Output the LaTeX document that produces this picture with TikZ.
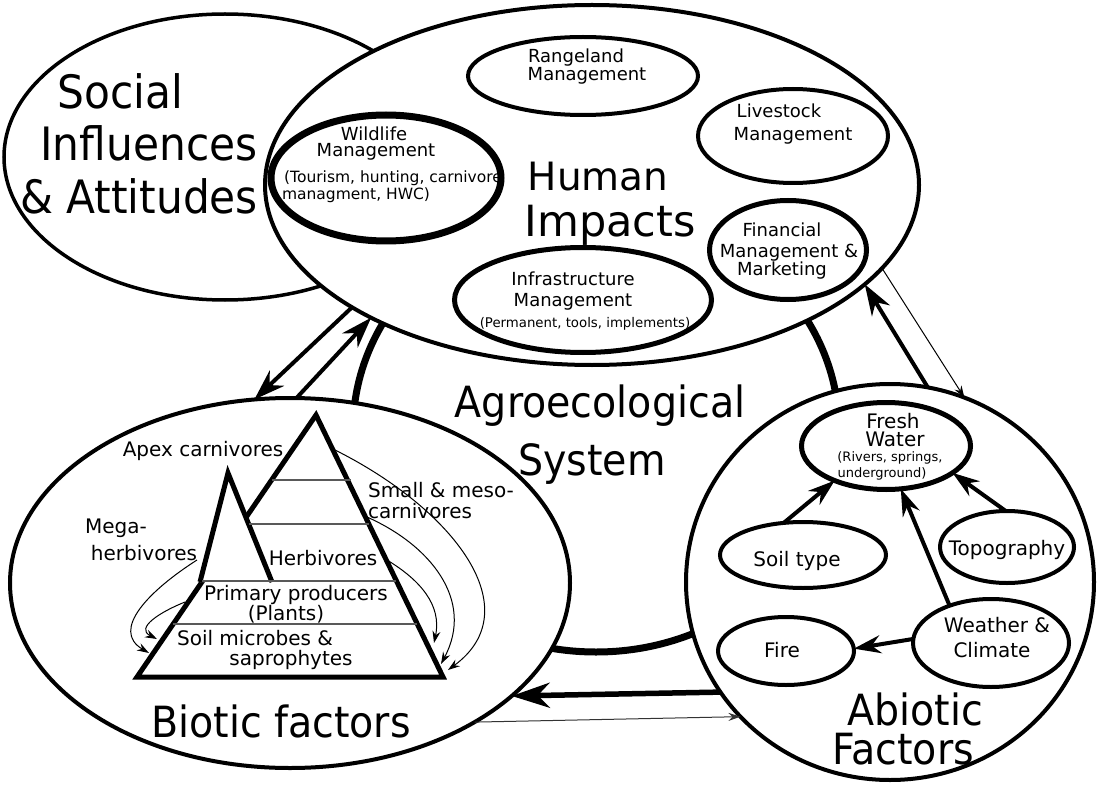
\documentclass[tikz,border=0pt]{standalone}
\usepackage{fontspec}
\setmainfont{DejaVu Sans}
\newfontfamily\bigf{DejaVu Sans}[FakeStretch=0.92]
\usetikzlibrary{shapes.geometric,arrows.meta}
\begin{document}
\begin{tikzpicture}[x=1pt,y=-1pt]
\tikzset{
 ell/.style={ellipse,draw,fill=white,inner sep=0pt,outer sep=0pt},
 lb/.style={anchor=base,inner sep=0pt,outer sep=0pt},
 Big/.style={lb,font=\bigf\fontsize{43}{46}\selectfont},
 Soc/.style={lb,font=\bigf\fontsize{46}{52}\selectfont},
 Med/.style={lb,font=\fontsize{18}{18}\selectfont},
 Pyr/.style={lb,font=\fontsize{20}{20}\selectfont},
 Sm/.style={lb,font=\fontsize{15.5}{15.5}\selectfont},
 Tiny/.style={lb,font=\fontsize{13.3}{13.3}\selectfont},
 thk/.style={line width=4pt,-{Stealth[length=31pt,width=21pt,inset=10pt]}},
 thkk/.style={line width=5.5pt,-{Stealth[length=38pt,width=25pt,inset=12pt]}},
 midarr/.style={line width=4pt,-{Stealth[length=27pt,width=18pt,inset=9pt]}},
 thn/.style={line width=1pt,-{Stealth[length=12pt,width=8pt,inset=4pt]}},
 lvl/.style={line width=1.3pt,draw=black!65},
}
\useasboundingbox (0,0) rectangle (1097,786);
\fill[white] (0,0) rectangle (1097,786);

% Social influences
\node[ell,line width=3.5pt,minimum width=442pt,minimum height=286pt] (social) at (225,157) {};
% Agroecological system ring
\node[ellipse,draw,line width=7pt,minimum width=486pt,minimum height=444pt,inner sep=0pt,outer sep=0pt] (agro) at (596,430) {};
% Human impacts
\node[ell,line width=4pt,minimum width=654pt,minimum height=360pt] (human) at (592,185) {};
\node[ell,line width=4pt,minimum width=230pt,minimum height=78pt] (range) at (583,76) {};
\node[ell,line width=4pt,minimum width=190pt,minimum height=94pt] (live) at (793,136) {};
\node[ell,line width=7pt,minimum width=230pt,minimum height=126pt] (wild) at (386,178) {};
\node[ell,line width=5pt,minimum width=157pt,minimum height=99pt] (fin) at (788,250) {};
\node[ell,line width=5pt,minimum width=257pt,minimum height=105pt] (infra) at (583,300) {};
% Biotic
\node[ell,line width=4pt,minimum width=560pt,minimum height=370pt] (biotic) at (290,583) {};
% Abiotic
\node[ell,line width=4pt,minimum width=408pt,minimum height=396pt] (abiotic) at (890,582) {};
\node[ell,line width=5pt,minimum width=169pt,minimum height=87pt] (fresh) at (886,446) {};
\node[ell,line width=4pt,minimum width=166pt,minimum height=66pt] (soil) at (803,555) {};
\node[ell,line width=4pt,minimum width=134pt,minimum height=72pt] (topo) at (1007,547) {};
\node[ell,line width=4pt,minimum width=156pt,minimum height=88pt] (weather) at (991,643) {};
\node[ell,line width=4pt,minimum width=136pt,minimum height=68pt] (fire) at (786,651) {};

% Pyramid
\filldraw[fill=white,line width=5pt,line join=miter] (316,415) -- (443,677) -- (137,677) -- cycle;
\fill[white] (228,473) -- (272,582) -- (200,582) -- cycle;
\draw[line width=5pt,line join=miter] (200,582) -- (228,473) -- (272,582);
\draw[lvl] (272,480) -- (351,480);
\draw[lvl] (249,524) -- (369,524);
\draw[lvl] (202,581) -- (396,581);
\draw[lvl] (173,624) -- (417,624);

\coordinate (p1s) at (335,450); \coordinate (p1e) at (448,670);
\coordinate (p2s) at (367,517); \coordinate (p2e) at (441,664);
\coordinate (p3s) at (387,560); \coordinate (p3e) at (434,643);
\coordinate (p4s) at (197,560); \coordinate (p4e) at (149,653);
\coordinate (p5s) at (185,602); \coordinate (p5e) at (157,639);
\draw[thn] (p1s) .. controls (455,510) and (530,610) .. (p1e);
\draw[thn] (p2s) .. controls (430,545) and (475,600) .. (p2e);
\draw[thn] (p3s) .. controls (420,580) and (442,605) .. (p3e);
\draw[thn] (p4s) .. controls (150,590) and (110,630) .. (p4e);
\draw[thn] (p5s) .. controls (160,612) and (135,628) .. (p5e);

% connectors between systems
\draw[thk] (human.207) -- (biotic.101);
\draw[thk] (biotic.88) -- (human.211);
\draw[thk] (abiotic.79) -- (human.340);
\draw[thn] (human.344) -- (abiotic.68);
\draw[thkk] (abiotic.213) -- (biotic.333);
\draw[thn,draw=black!80] (biotic.323) -- (abiotic.222);

% abiotic internal
\draw[midarr] (soil.121) -- (fresh.214);
\draw[midarr] (topo.92) -- (fresh.338);
\draw[midarr] (weather.138) -- (fresh.289);
\draw[midarr] (weather.177) -- (fire.2);

% Texts
\node[Soc] (tsoc1) at (120,109) {Social};
\node[Soc] (tsoc2) at (149,161) {Influences};
\node[Soc] (tsoc3) at (139,214) {\& Attitudes};

\node[lb,font=\fontsize{39}{39}\selectfont] (thum1) at (598,191) {Human};
\node[lb,font=\fontsize{43}{43}\selectfont] (thum2) at (610,237) {Impacts};

\node[Big] (tagro1) at (600,417) {Agroecological};
\node[Big] (tagro2) at (592,475) {System};

\node[Big] (tbio) at (281,737) {Biotic factors};
\node[Big] (tabi1) at (915,725) {Abiotic};
\node[Big] (tabi2) at (903,764) {Factors};

\node[Med] (tr1) at (576,63) {Rangeland};
\node[Med] (tr2) at (587,81) {Management};
\node[Med] (tl1) at (779,118) {Livestock};
\node[Med] (tl2) at (793,141) {Management};
\node[Med] (tw1) at (374,141) {Wildlife};
\node[Med] (tw2) at (376,157) {Management};
\node[Sm] (tw3) at (393,183) {(Tourism, hunting, carnivore};
\node[Sm] (tw4) at (356,200) {managment, HWC)};
\node[Med] (ti1) at (573,285) {Infrastructure};
\node[Med] (ti2) at (573,306) {Management};
\node[Tiny] (ti3) at (585,327) {(Permanent, tools, implements)};
\node[Med] (tf1) at (782,237) {Financial};
\node[Med] (tf2) at (789,258) {Management \&};
\node[Med] (tf3) at (782,276) {Marketing};

\node[Pyr] (tapex) at (203,456) {Apex carnivores};
\node[Pyr] (tsm1) at (441,497) {Small \& meso-};
\node[Pyr] (tsm2) at (420,518) {carnivores};
\node[Pyr] (tmeg1) at (116,533) {Mega-};
\node[Pyr] (tmeg2) at (144,560) {herbivores};
\node[Pyr] (therb) at (323,565) {Herbivores};
\node[Pyr] (tpp1) at (296,600) {Primary producers};
\node[Pyr] (tpp2) at (286,620) {(Plants)};
\node[Pyr] (tsoil1) at (255,645) {Soil microbes \&};
\node[Pyr] (tsoil2) at (291,665) {saprophytes};

\node[Pyr] (tfw1) at (893,428) {Fresh};
\node[Pyr] (tfw2) at (895,446) {Water};
\node[lb,font=\fontsize{13}{13}\selectfont] (tfw3) at (890,461) {(Rivers, springs,};
\node[lb,font=\fontsize{13}{13}\selectfont] (tfw4) at (882,477) {underground)};
\node[Pyr] (tsoilt) at (797,566) {Soil type};
\node[Pyr] (ttopo) at (1007,555) {Topography};
\node[Pyr] (twc1) at (997,632) {Weather \&};
\node[Pyr] (twc2) at (992,657) {Climate};
\node[Pyr] (tfire) at (782,657) {Fire};
\end{tikzpicture}
\end{document}
